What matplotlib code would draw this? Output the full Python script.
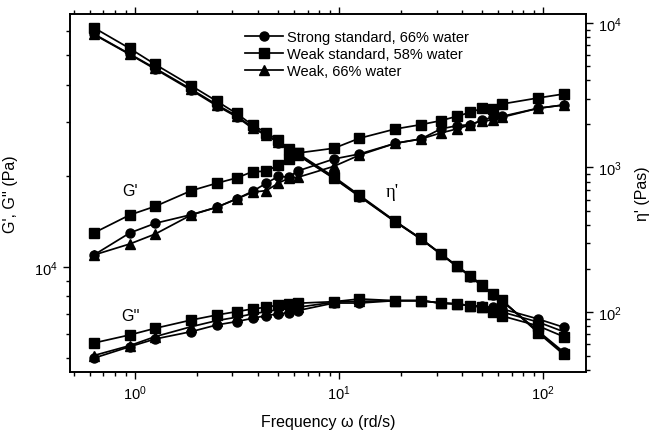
import numpy as np
import matplotlib.pyplot as plt
from matplotlib.ticker import LogLocator, NullFormatter

plt.rcParams['font.family'] = ['Liberation Sans', 'DejaVu Sans']
plt.rcParams['mathtext.default'] = 'regular'

# angular frequency (rd/s)
freq = [0.628, 0.942, 1.257, 1.885, 2.513, 3.142, 3.770, 4.398, 5.027, 5.655,
        6.283, 9.425, 12.57, 18.85, 25.13, 31.42, 37.70, 43.98, 50.27, 56.55,
        62.83, 94.25, 125.7]

labels = ['Strong standard, 66% water', 'Weak standard, 58% water', 'Weak, 66% water']
markers = ['o', 's', '^']

# storage modulus G' (Pa)
g1_strong = [10950, 12950, 13940, 14880, 15740, 16770, 17780, 18900, 19900, 19800,
             20750, 22720, 23600, 25600, 26450, 28540, 29260, 29500, 30550, 31200,
             31420, 33410, 34250]
g1_weak58 = [12950, 14850, 15860, 17860, 18900, 19670, 20640, 20690, 21710, 22720,
             23780, 24650, 26600, 28540, 29500, 30400, 31420, 32410, 33410, 33200,
             34510, 36130, 37230]
g1_weak66 = [10950, 11910, 12850, 14850, 15740, 16770, 17650, 17870, 18900, 19630,
             19770, 21490, 23400, 25600, 26450, 27680, 28540, 29500, 30400, 30500,
             31200, 33400, 34250]

# loss modulus G'' (Pa)
g2_strong = [5000, 5455, 5785, 6115, 6435, 6600, 6770, 6910, 7000, 7050,
             7180, 7600, 7600, 7740, 7740, 7600, 7550, 7450, 7420, 7350,
             7270, 6735, 6325]
g2_weak58 = [5610, 5965, 6275, 6680, 6940, 7120, 7270, 7360, 7490, 7550,
             7590, 7680, 7840, 7740, 7740, 7600, 7550, 7450, 7350, 7100,
             6890, 6390, 5890]
g2_weak66 = [5100, 5500, 5890, 6350, 6650, 6825, 7000, 7120, 7230, 7300,
             7360, 7650, 7700, 7740, 7740, 7600, 7550, 7450, 7400, 7250,
             7100, 6580, 6115]

# dynamic viscosity eta' (Pas)
eta_strong = [8325, 6054, 4788, 3427, 2673, 2244, 1862, 1673, 1489, 1317,
              1216, 840, 630, 420, 320, 252, 207, 176, 151, 132,
              119, 74, 53]
eta_weak58 = [9270, 6660, 5160, 3677, 2876, 2364, 1962, 1739, 1545, 1353,
              1250, 862, 643, 425, 323, 254, 209, 178, 153, 134,
              120.7, 72, 51]
eta_weak66 = [8400, 6100, 4850, 3480, 2720, 2280, 1890, 1690, 1500, 1330,
              1225, 845, 635, 422, 321, 253, 208, 177, 152, 133,
              120, 73, 52]

g1 = [g1_strong, g1_weak58, g1_weak66]
g2 = [g2_strong, g2_weak58, g2_weak66]
eta = [eta_strong, eta_weak58, eta_weak66]

fig = plt.figure(figsize=(6.52, 4.31), dpi=100)
ax = fig.add_axes([0.1074, 0.1346, 0.7914, 0.8306])
ax2 = ax.twinx()

handles = []
for i in range(3):
    h, = ax.plot(freq, g1[i], color='black', marker=markers[i], ms=6.5, lw=1.25,
                 label=labels[i])
    ax.plot(freq, g2[i], color='black', marker=markers[i], ms=6.5, lw=1.25)
    ax2.plot(freq, eta[i], color='black', marker=markers[i], ms=6.5, lw=1.25)
    handles.append(h)

ax.set_xscale('log')
ax.set_yscale('log')
ax2.set_yscale('log')
ax.set_xlim(0.48, 162)
ax.set_ylim(4500, 68400)
ax2.set_ylim(38.5, 11530)

for a in (ax, ax2):
    a.yaxis.set_major_locator(LogLocator(base=10))
    a.yaxis.set_minor_locator(LogLocator(base=10, subs=np.arange(2, 10)))
    a.yaxis.set_minor_formatter(NullFormatter())
    for s in a.spines.values():
        s.set_linewidth(1.2)
ax.xaxis.set_minor_formatter(NullFormatter())

ax.tick_params(which='both', direction='out', top=True, labelsize=10.5, width=1)
ax.tick_params(which='major', length=5)
ax.tick_params(which='minor', length=3)
ax2.tick_params(which='both', direction='out', labelsize=10.5, width=1)
ax2.tick_params(which='major', length=5)
ax2.tick_params(which='minor', length=3)

ax.set_xlabel('Frequency ω (rd/s)', fontsize=11.5, labelpad=8)
ax.set_ylabel("G', G'' (Pa)", fontsize=11.5, labelpad=12)
ax2.set_ylabel("η' (Pas)", fontsize=11.5, labelpad=10)

ax.text(130, 192, "G'", transform=None, fontsize=11.5, ha='center', va='center')
ax.text(130, 317, "G''", transform=None, fontsize=11.5, ha='center', va='center')
ax.text(392, 193, "η'", transform=None, fontsize=13.5, ha='center', va='center',
        family=['Liberation Serif', 'DejaVu Serif'])

# pixel positions measured from the top; convert to display coordinates
for t in ax.texts:
    x, y = t.get_position()
    t.set_position((x, 431 - y))

fig.legend(handles=handles, loc='upper left', bbox_to_anchor=(0.376, 0.928),
           frameon=False, fontsize=10.5, handlelength=2.6, handletextpad=0.3,
           labelspacing=0.2, borderpad=0, borderaxespad=0)

plt.savefig('out.png', dpi=100)
